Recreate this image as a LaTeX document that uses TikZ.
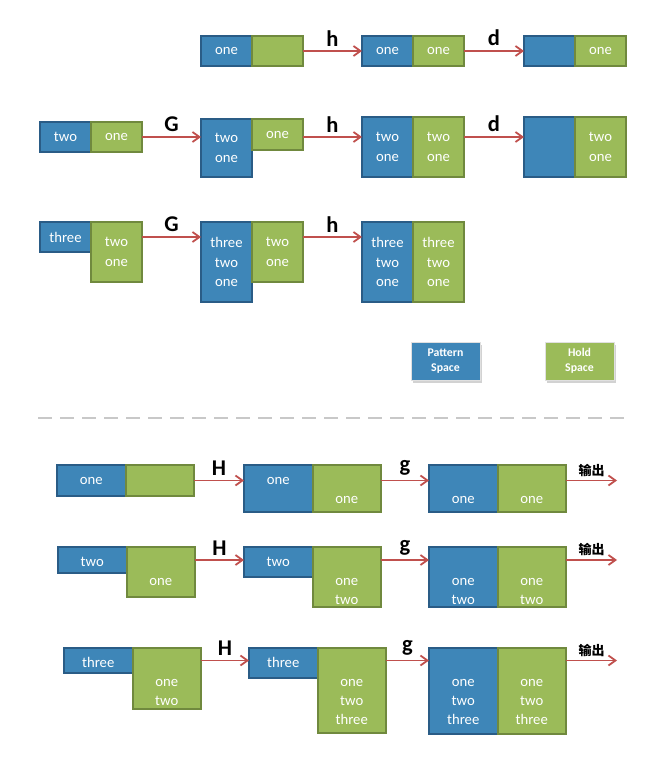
\documentclass[tikz,border=0pt]{standalone}
\usepackage{fontspec}
\setmainfont{Carlito}
\newfontfamily\cjk{Noto Sans CJK SC}
\usetikzlibrary{arrows.meta,shadows}

\definecolor{patfill}{RGB}{62,134,184}
\definecolor{patline}{RGB}{42,92,134}
\definecolor{holdfill}{RGB}{155,187,89}
\definecolor{holdline}{RGB}{112,137,62}
\definecolor{flowred}{RGB}{192,80,77}
\definecolor{sepgray}{RGB}{200,200,200}

% lines of a buffer, hung from the top of the box
\newcommand{\stk}[2]{\parbox[c][#1pt][t]{64pt}{\centering\fontsize{14.7}{19}\selectfont\rule{0pt}{19.5pt}#2}}

\tikzset{
  box/.style={line width=2pt, inner sep=0pt, outer sep=0pt, anchor=north west,
    text=white, align=center, font=\fontsize{14.7}{19.5}\selectfont},
  pat/.style={box, fill=patfill, draw=patline, minimum height=#1},
  pat/.default=30pt,
  hold/.style={box, fill=holdfill, draw=holdline, minimum height=#1},
  hold/.default=30pt,
  narrow/.style={minimum width=51pt},
  wide/.style={minimum width=68.5pt},
  legend/.style={minimum width=69pt, draw=white!88!black, line width=1pt,
    drop shadow={shadow xshift=2pt, shadow yshift=-2.5pt, fill=black!35},
    font=\fontsize{11.8}{15}\selectfont\bfseries},
  flow/.style={draw=flowred, line width=1.8pt, -{Straight Barb[length=7pt,width=10pt]}},
  cmd/.style={midway, above, inner sep=4pt, text=black, font=\fontsize{22.5}{22.5}\selectfont\bfseries},
  outlbl/.style={midway, above, inner sep=3pt, text=black, font=\cjk\fontsize{13}{13}\selectfont\bfseries}
}

\begin{document}
\begin{tikzpicture}[x=1pt, y=-1pt]
\useasboundingbox (0,0) rectangle (661,762);

% h then d
\node[pat, narrow] (p11) at (201,36) {one};
\node[hold, narrow] (h11) at (p11.north east) {};
\node[pat, narrow] (p12) at (362,36) {one};
\node[hold, narrow] (h12) at (p12.north east) {one};
\node[pat, narrow] (p13) at (524,36) {};
\node[hold, narrow] (h13) at (p13.north east) {one};
\draw[flow] (h11.east |- p11) -- (p12.west |- p11) node[cmd] {h};
\draw[flow] (h12.east |- p11) -- (p13.west |- p11) node[cmd] {d};

% G, h, d
\node[pat, narrow] (p21) at (40,122) {two};
\node[hold, narrow] (h21) at (p21.north east) {one};
\node[pat=58pt, narrow] (p22) at (201,119) {two\\one};
\node[hold=31pt, narrow] (h22) at (p22.north east) {one};
\node[pat=60pt, narrow] (p23) at (362,117) {two\\one};
\node[hold=60pt, narrow] (h23) at (p23.north east) {two\\one};
\node[pat=60pt, narrow] (p24) at (524,117) {};
\node[hold=60pt, narrow] (h24) at (p24.north east) {two\\one};
\draw[flow] (h21.east |- p21) -- (p22.west |- p21) node[cmd] {G};
\draw[flow] (h22.east |- p21) -- (p23.west |- p21) node[cmd] {h};
\draw[flow] (h23.east |- p21) -- (p24.west |- p21) node[cmd] {d};

% G, h
\node[pat, narrow] (p31) at (40,222) {three};
\node[hold=60pt, narrow] (h31) at (p31.north east) {two\\one};
\node[pat=80pt, narrow] (p32) at (201,222) {three\\two\\one};
\node[hold=60pt, narrow] (h32) at (p32.north east) {two\\one};
\node[pat=80pt, narrow] (p33) at (362,222) {three\\two\\one};
\node[hold=80pt, narrow] (h33) at (p33.north east) {three\\two\\one};
\draw[flow] (h31.east |- p31) -- (p32.west |- p31) node[cmd] {G};
\draw[flow] (h32.east |- p31) -- (p33.west |- p31) node[cmd] {h};

% legend
\node[pat=38pt, legend] (lpat) at (411,342) {Pattern\\Space};
\node[hold=38pt, legend] (lhold) at (545,342) {Hold\\Space};

\draw[sepgray, line width=1.5pt, dash pattern=on 14pt off 8pt] (38,418) -- (626,418);

% H, g, output
\node[pat=31pt, wide] (q11) at (57,465) {\stk{31}{one}};
\node[hold=31pt, wide] (g11) at (q11.north east) {};
\node[pat=47pt, wide] (q12) at (244,465) {\stk{47}{one}};
\node[hold=47pt, wide] (g12) at (q12.north east) {\stk{47}{\\one}};
\node[pat=47pt, wide] (q13) at (429,465) {\stk{47}{\\one}};
\node[hold=47pt, wide] (g13) at (q13.north east) {\stk{47}{\\one}};
\coordinate (o1) at (617,480.5);
\draw[flow] (g11.east |- q11) -- (q12.west |- q11) node[cmd] {H};
\draw[flow] (g12.east |- q11) -- (q13.west |- q11) node[cmd] {g};
\draw[flow] (g13.east |- o1) -- (o1) node[outlbl] {输出};

\node[pat=26pt, wide] (q21) at (58,547) {\stk{26}{two}};
\node[hold=50pt, wide] (g21) at (q21.north east) {\stk{50}{\\one}};
\node[pat=30pt, wide] (q22) at (244,547) {\stk{30}{two}};
\node[hold=60pt, wide] (g22) at (q22.north east) {\stk{60}{\\one\\two}};
\node[pat=60pt, wide] (q23) at (429,547) {\stk{60}{\\one\\two}};
\node[hold=60pt, wide] (g23) at (q23.north east) {\stk{60}{\\one\\two}};
\coordinate (o2) at (617,560);
\draw[flow] (g21.east |- q21) -- (q22.west |- q21) node[cmd] {H};
\draw[flow] (g22.east |- q21) -- (q23.west |- q21) node[cmd] {g};
\draw[flow] (g23.east |- o2) -- (o2) node[outlbl] {输出};

\node[pat=25pt, wide] (q31) at (64,648) {\stk{25}{three}};
\node[hold=61pt, wide] (g31) at (q31.north east) {\stk{61}{\\one\\two}};
\node[pat=30pt, wide] (q32) at (249,648) {\stk{30}{three}};
\node[hold=85pt, wide] (g32) at (q32.north east) {\stk{85}{\\one\\two\\three}};
\node[pat=86pt, wide] (q33) at (429,648) {\stk{86}{\\one\\two\\three}};
\node[hold=86pt, wide] (g33) at (q33.north east) {\stk{86}{\\one\\two\\three}};
\coordinate (o3) at (617,660.5);
\draw[flow] (g31.east |- q31) -- (q32.west |- q31) node[cmd] {H};
\draw[flow] (g32.east |- q31) -- (q33.west |- q31) node[cmd] {g};
\draw[flow] (g33.east |- o3) -- (o3) node[outlbl] {输出};
\end{tikzpicture}
\end{document}
